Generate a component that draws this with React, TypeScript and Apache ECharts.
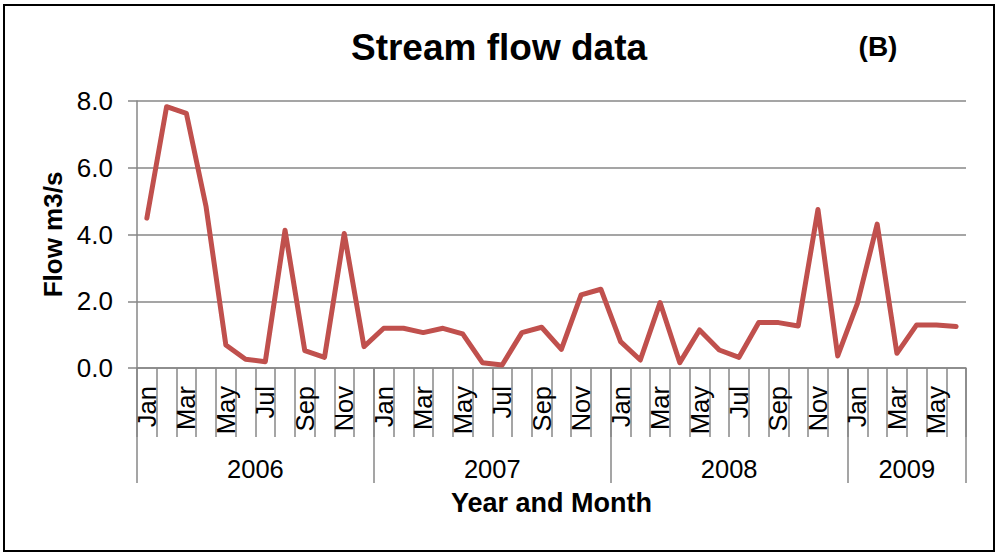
import React, { useEffect, useRef } from "react";
import * as echarts from "echarts";

const monthNames = ["Jan", "Feb", "Mar", "Apr", "May", "Jun", "Jul", "Aug", "Sep", "Oct", "Nov", "Dec"];
const years = ["2006", "2007", "2008", "2009"];
const monthsPerYear = [12, 12, 12, 6];

const flow2006 = [4.49, 7.83, 7.63, 4.83, 0.69, 0.26, 0.19, 4.13, 0.52, 0.32, 4.03, 0.64];
const flow2007 = [1.19, 1.19, 1.06, 1.19, 1.02, 0.16, 0.09, 1.06, 1.22, 0.56, 2.19, 2.36];
const flow2008 = [0.79, 0.24, 1.96, 0.16, 1.14, 0.54, 0.32, 1.36, 1.36, 1.26, 4.75, 0.36];
const flow2009 = [1.94, 4.31, 0.44, 1.29, 1.29, 1.24];

const yTicks = [0, 2, 4, 6, 8];

const FONT = "'Liberation Sans', Arial, Helvetica, sans-serif";
const GRAY = "#878787";

export default function App() {
  const ref = useRef<HTMLDivElement>(null);

  useEffect(() => {
    if (!ref.current) return;
    const chart = echarts.init(ref.current, undefined, { renderer: "svg" });

    const monthCats: string[] = [];
    monthsPerYear.forEach((n) => {
      for (let i = 0; i < n; i++) monthCats.push(monthNames[i]);
    });
    const values = [...flow2006, ...flow2007, ...flow2008, ...flow2009];

    // half-month axis for year grouping: 2*N+1 boundary points
    const total = monthCats.length;
    const yearAxisData: string[] = new Array(total * 2 + 1).fill("");
    const boundaries = new Set<number>([0]);
    const labelIdx = new Set<number>();
    let acc = 0;
    monthsPerYear.forEach((n, k) => {
      const center = acc * 2 + n;
      yearAxisData[center] = years[k];
      labelIdx.add(center);
      acc += n;
      boundaries.add(acc * 2);
    });

    chart.setOption({
      animation: false,
      backgroundColor: "#ffffff",
      textStyle: { fontFamily: FONT },
      grid: { left: 137, right: 30, top: 101, bottom: 185, containLabel: false },
      graphic: [
        {
          type: "rect",
          shape: { x: 4, y: 5, width: 990, height: 546 },
          style: { fill: "none", stroke: "#000", lineWidth: 2 },
          silent: true,
        },
        {
          type: "text",
          x: 499,
          y: 47,
          style: {
            text: "Stream flow data",
            font: `bold 37px ${FONT}`,
            fill: "#000",
            align: "center",
            verticalAlign: "middle",
          },
        },
        {
          type: "text",
          x: 878,
          y: 46,
          style: {
            text: "(B)",
            font: `bold 28px ${FONT}`,
            fill: "#000",
            align: "center",
            verticalAlign: "middle",
          },
        },
      ],
      xAxis: [
        {
          type: "category",
          data: monthCats,
          boundaryGap: true,
          position: "bottom",
          axisLine: { show: true, lineStyle: { color: GRAY, width: 1.5 } },
          axisTick: { show: true, interval: 0, length: 69, lineStyle: { color: GRAY, width: 1.5 } },
          axisLabel: {
            interval: 1,
            rotate: 90,
            margin: 18,
            fontSize: 25.5,
            color: "#000",
            fontFamily: FONT,
          },
          splitLine: { show: false },
        },
        {
          type: "category",
          data: yearAxisData,
          boundaryGap: false,
          position: "bottom",
          axisLine: { show: false },
          axisTick: {
            show: true,
            interval: (i: number) => boundaries.has(i),
            length: 115,
            lineStyle: { color: GRAY, width: 1.5 },
          },
          axisLabel: {
            interval: (i: number) => labelIdx.has(i),
            margin: 88,
            fontSize: 25.5,
            color: "#000",
            fontFamily: FONT,
          },
          name: "Year and Month",
          nameLocation: "middle",
          nameGap: 121,
          nameTextStyle: { fontSize: 27, fontWeight: "bold", color: "#000", fontFamily: FONT, verticalAlign: "top" },
          splitLine: { show: false },
        },
      ],
      yAxis: {
        type: "value",
        min: yTicks[0],
        max: yTicks[yTicks.length - 1],
        interval: yTicks[1] - yTicks[0],
        axisLine: { show: true, lineStyle: { color: GRAY, width: 1.5 } },
        axisTick: { show: true, length: 9, lineStyle: { color: GRAY, width: 1.5 } },
        axisLabel: {
          margin: 24,
          fontSize: 26,
          color: "#000",
          fontFamily: FONT,
          formatter: (v: number) => v.toFixed(1),
        },
        splitLine: { show: true, lineStyle: { color: GRAY, width: 1.5 } },
        name: "Flow m3/s",
        nameLocation: "middle",
        nameGap: 70,
        nameTextStyle: { fontSize: 26, fontWeight: "bold", color: "#000", fontFamily: FONT },
      },
      series: [
        {
          type: "line",
          xAxisIndex: 0,
          data: values,
          showSymbol: false,
          symbol: "none",
          lineStyle: { color: "#C0504D", width: 5, cap: "round", join: "round" },
          itemStyle: { color: "#C0504D" },
        },
      ],
    });

    return () => chart.dispose();
  }, []);

  return (
    <div
      ref={ref}
      style={{ position: "absolute", left: 0, top: 0, width: 996, height: 553 }}
    />
  );
}
